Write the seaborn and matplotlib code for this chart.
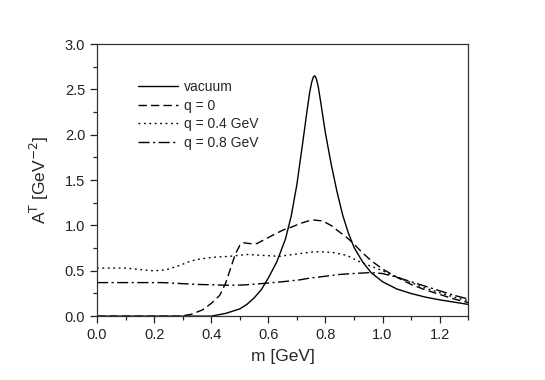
import numpy as np
import pandas as pd
import matplotlib
matplotlib.use('Agg')
import matplotlib.pyplot as plt
from matplotlib.ticker import MultipleLocator, FormatStrFormatter
import seaborn as sns

# vacuum
m_vac = [0.0, 0.3, 0.4, 0.45, 0.5, 0.525, 0.55, 0.575, 0.6, 0.63, 0.66, 0.68, 0.70, 0.72, 0.735,
         0.745, 0.752, 0.758, 0.763, 0.768, 0.775, 0.785, 0.80, 0.82, 0.84, 0.86, 0.88, 0.90,
         0.93, 0.96, 1.0, 1.05, 1.1, 1.15, 1.2, 1.25, 1.3]
a_vac = [0.0, 0.0, 0.0, 0.03, 0.08, 0.13, 0.2, 0.29, 0.42, 0.6, 0.85, 1.1, 1.45, 1.9, 2.25,
         2.47, 2.58, 2.64, 2.65, 2.62, 2.53, 2.33, 2.02, 1.68, 1.38, 1.12, 0.92, 0.76,
         0.6, 0.48, 0.38, 0.3, 0.25, 0.21, 0.18, 0.155, 0.13]

# q = 0
m_q0 = [0.0, 0.29, 0.33, 0.37, 0.40, 0.43, 0.45, 0.466, 0.484, 0.50, 0.512, 0.535, 0.56, 0.59,
        0.62, 0.652, 0.68, 0.71, 0.74, 0.76, 0.79, 0.82, 0.84, 0.87, 0.892, 0.92, 0.957, 1.0,
        1.05, 1.1, 1.15, 1.2, 1.25, 1.3]
a_q0 = [0.0, 0.0, 0.02, 0.07, 0.14, 0.23, 0.36, 0.51, 0.68, 0.78, 0.81, 0.80, 0.80, 0.85,
        0.90, 0.95, 0.98, 1.02, 1.05, 1.06, 1.05, 1.0, 0.95, 0.88, 0.82, 0.73, 0.62, 0.52,
        0.43, 0.35, 0.29, 0.24, 0.19, 0.15]

# q = 0.4 GeV
m_q4 = [0.0, 0.1, 0.197, 0.24, 0.29, 0.33, 0.36, 0.41, 0.466, 0.525, 0.58, 0.64, 0.71, 0.76,
        0.78, 0.83, 0.875, 0.92, 0.96, 1.0, 1.05, 1.1, 1.15, 1.2, 1.25, 1.3]
a_q4 = [0.53, 0.53, 0.50, 0.51, 0.56, 0.61, 0.63, 0.65, 0.66, 0.68, 0.67, 0.66, 0.69, 0.71,
        0.71, 0.70, 0.67, 0.60, 0.55, 0.50, 0.43, 0.37, 0.31, 0.26, 0.21, 0.17]

# q = 0.8 GeV
m_q8 = [0.0, 0.1, 0.23, 0.35, 0.466, 0.52, 0.58, 0.65, 0.71, 0.746, 0.80, 0.85, 0.897, 0.957,
        1.0, 1.05, 1.1, 1.15, 1.2, 1.25, 1.3]
a_q8 = [0.37, 0.37, 0.37, 0.35, 0.34, 0.345, 0.36, 0.38, 0.40, 0.42, 0.44, 0.46, 0.47, 0.48,
        0.47, 0.43, 0.38, 0.33, 0.28, 0.23, 0.19]

labels = ['vacuum', 'q = 0', 'q = 0.4 GeV', 'q = 0.8 GeV']

sns.set_style('ticks')
plt.rcParams['font.family'] = ['Liberation Sans', 'DejaVu Sans']

fig = plt.figure(figsize=(5.45, 3.8), dpi=100)
ax = fig.add_axes([0.178, 0.168, 0.681, 0.716])

series = [(m_vac, a_vac, None), (m_q0, a_q0, (6, 3)),
          (m_q4, a_q4, (1.3, 2.6)), (m_q8, a_q8, (8, 2.5, 1.5, 2.5))]
for (mm, aa, ds), lab in zip(series, labels):
    sns.lineplot(x=mm, y=aa, ax=ax, color='black', lw=1.0, label=lab, sort=False)
    if ds is not None:
        ax.get_lines()[-1].set_dashes(ds)

ax.set_xlim(0, 1.3)
ax.set_ylim(0, 3.0)
ax.xaxis.set_major_locator(MultipleLocator(0.2))
ax.xaxis.set_minor_locator(MultipleLocator(0.1))
ax.yaxis.set_major_locator(MultipleLocator(0.5))
ax.yaxis.set_minor_locator(MultipleLocator(0.25))
ax.xaxis.set_major_formatter(FormatStrFormatter('%.1f'))
ax.yaxis.set_major_formatter(FormatStrFormatter('%.1f'))
ax.tick_params(which='major', direction='out', length=5, width=0.9, labelsize=10.5, colors='#222222')
ax.tick_params(which='minor', direction='out', length=3, width=0.9, colors='#222222')
for s in ax.spines.values():
    s.set_linewidth(0.9)
    s.set_color('#333333')
    s.set_visible(True)

ax.set_xlabel('m [GeV]', fontsize=12.5, labelpad=5)
ax.set_ylabel('A$^{\\mathrm{T}}$ [GeV$^{\\mathrm{-2}}$]', fontsize=12.5, labelpad=10)

leg = ax.legend(loc='upper left', bbox_to_anchor=(0.11, 0.868), frameon=False, fontsize=10,
                handlelength=2.9, handletextpad=0.4, labelspacing=0.33,
                borderpad=0, borderaxespad=0)

fig.savefig('out.png', dpi=100)
